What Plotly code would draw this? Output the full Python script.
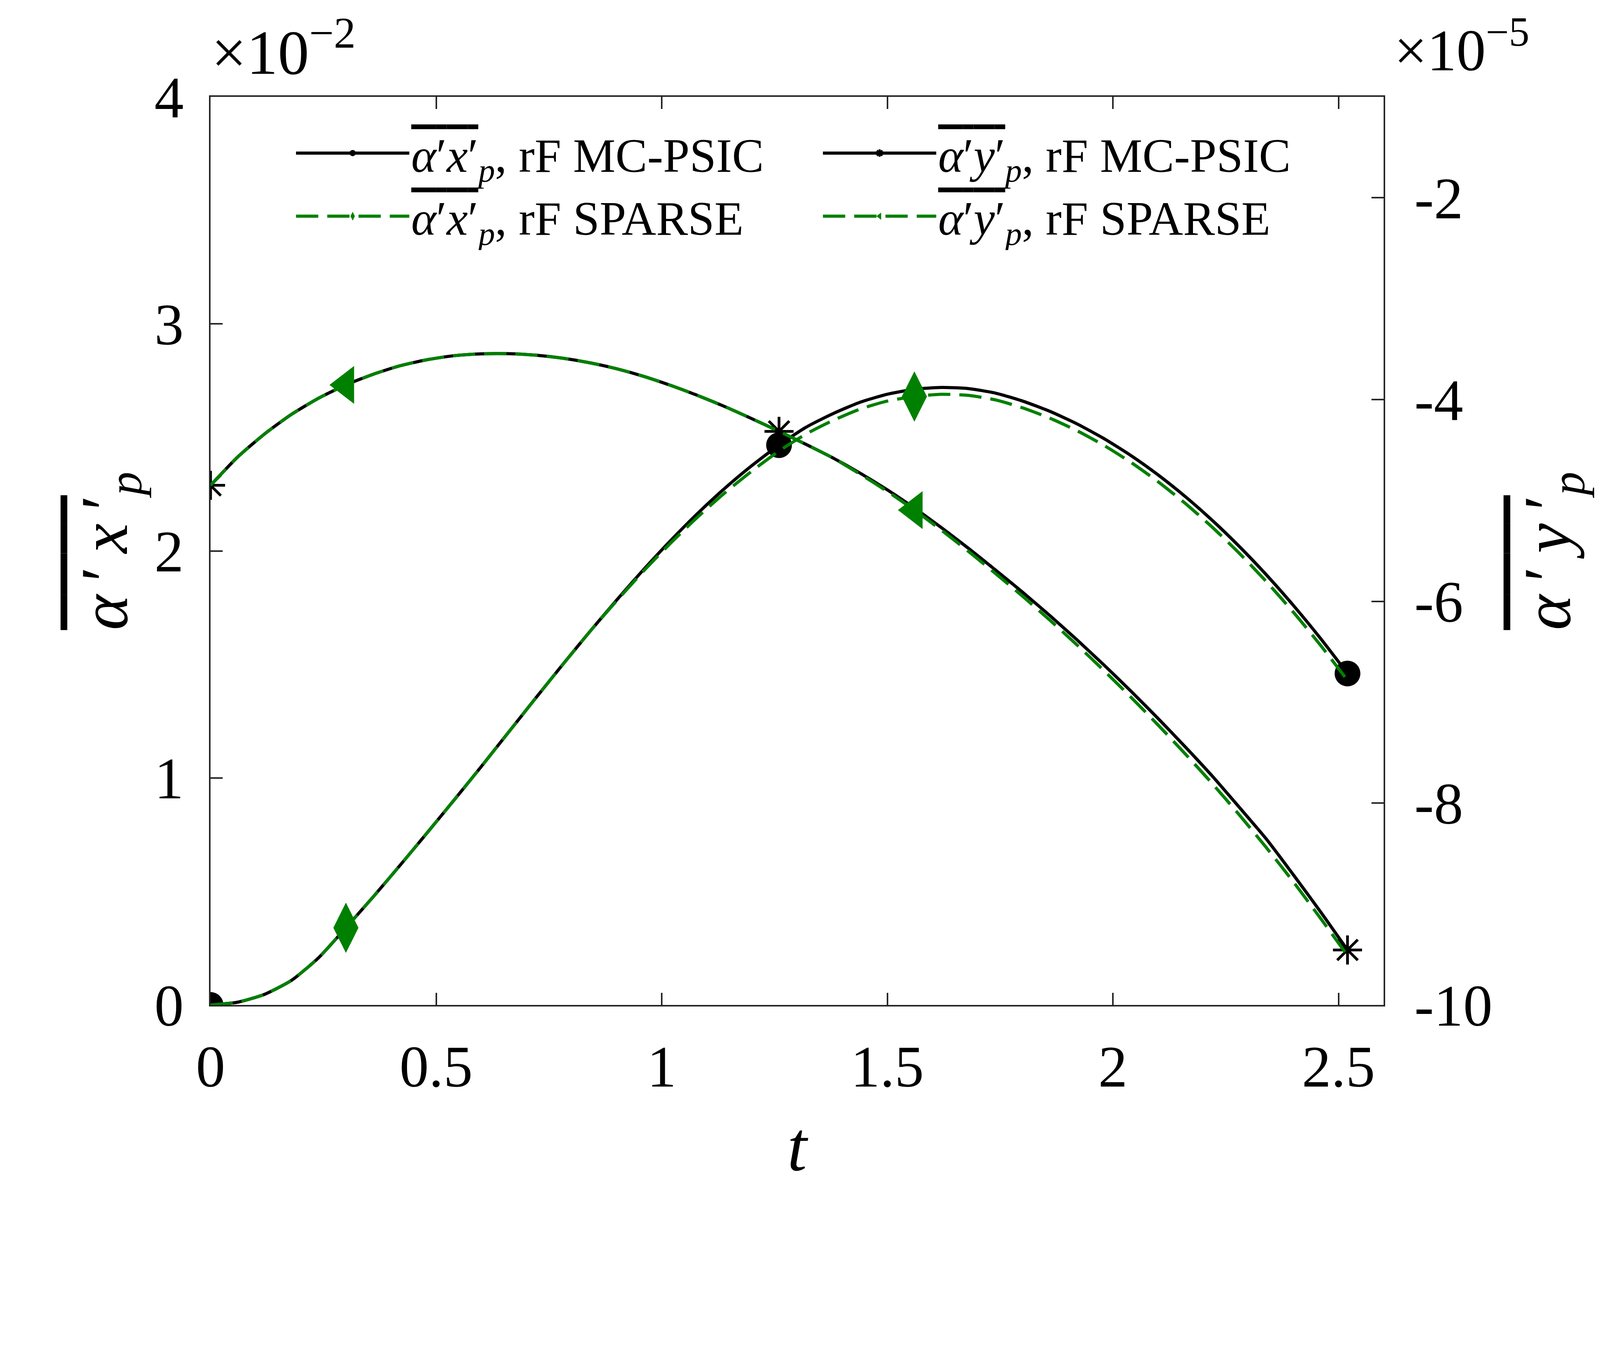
import plotly.graph_objects as go

# time grid (same for every series)
t = [0.00, 0.06, 0.12, 0.18, 0.24, 0.30, 0.36, 0.42, 0.48, 0.54, 0.60, 0.66, 0.72, 0.78,
     0.84, 0.90, 0.96, 1.02, 1.08, 1.14, 1.20, 1.26, 1.32, 1.38, 1.44, 1.50, 1.56, 1.62,
     1.68, 1.74, 1.80, 1.86, 1.92, 1.98, 2.04, 2.10, 2.16, 2.22, 2.28, 2.34, 2.40, 2.46, 2.52]

# alpha'x'_p  (x 1e-2), left axis
ax_mc = [0.000, 0.012, 0.047, 0.109, 0.209, 0.340, 0.475, 0.615, 0.758, 0.903, 1.050, 1.200,
         1.350, 1.498, 1.643, 1.783, 1.918, 2.046, 2.166, 2.276, 2.376, 2.466, 2.545, 2.605,
         2.655, 2.690, 2.712, 2.720, 2.715, 2.695, 2.660, 2.615, 2.560, 2.495, 2.420, 2.335,
         2.240, 2.135, 2.020, 1.895, 1.760, 1.615, 1.460]
ax_sp = [0.000, 0.012, 0.047, 0.109, 0.209, 0.340, 0.475, 0.615, 0.758, 0.903, 1.050, 1.200,
         1.350, 1.498, 1.643, 1.780, 1.912, 2.035, 2.150, 2.256, 2.352, 2.440, 2.515, 2.575,
         2.625, 2.660, 2.680, 2.690, 2.685, 2.665, 2.630, 2.585, 2.530, 2.465, 2.390, 2.305,
         2.210, 2.105, 1.990, 1.865, 1.730, 1.585, 1.430]

# alpha'y'_p  (x 1e-5), right axis
ay_mc = [-4.85, -4.57, -4.34, -4.145, -3.985, -3.855, -3.75, -3.665, -3.605, -3.565, -3.547,
         -3.545, -3.56, -3.59, -3.635, -3.695, -3.77, -3.86, -3.96, -4.07, -4.19, -4.315,
         -4.445, -4.58, -4.73, -4.895, -5.075, -5.27, -5.475, -5.69, -5.91, -6.14, -6.38,
         -6.63, -6.89, -7.16, -7.44, -7.73, -8.04, -8.355, -8.71, -9.075, -9.455]
ay_sp = [-4.85, -4.57, -4.34, -4.145, -3.985, -3.855, -3.75, -3.665, -3.605, -3.565, -3.547,
         -3.545, -3.56, -3.59, -3.635, -3.695, -3.77, -3.86, -3.96, -4.07, -4.19, -4.315,
         -4.445, -4.58, -4.74, -4.91, -5.095, -5.295, -5.505, -5.725, -5.95, -6.185, -6.43,
         -6.685, -6.95, -7.225, -7.51, -7.805, -8.115, -8.44, -8.78, -9.14, -9.51]

# indices where markers are shown
mc_marks = [0, 21, 42]
sp_marks = [5, 26]

left_ticks = [0, 1, 2, 3, 4]
right_ticks = [-10, -8, -6, -4, -2]
right_ticktext = ["-10", "-8", "-6", "-4", "-2"]
x_ticks = [0, 0.5, 1, 1.5, 2, 2.5]
x_ticktext = ["0", "0.5", "1", "1.5", "2", "2.5"]

FONT = "Liberation Serif"
GREEN = "rgb(0,128,0)"
AXC = "#262626"
LW = 8
DASH = "57px,23px"

ov_x = "<span style='text-decoration:overline'><i>α</i>′<i>x</i>′</span><sub><i>p</i></sub>"
ov_y = "<span style='text-decoration:overline'><i>α</i>′<i>y</i>′</span><sub><i>p</i></sub>"
# axis titles, a little wider spacing like math typesetting
tt_x = "<span style='text-decoration:overline'><i>α</i>\u2009′\u2009<i>x</i>\u2009′</span><sub><i>p</i></sub>"
tt_y = "<span style='text-decoration:overline'><i>α</i>\u2009′\u2009<i>y</i>\u2009′</span><sub><i>p</i></sub>"

fig = go.Figure()


def add_series(y, name, color, dash, symbol, size, marks, yaxis, legend, mline=0):
    fig.add_trace(go.Scatter(
        x=t, y=y, name=name, mode="lines+markers", yaxis=yaxis, legend=legend,
        line=dict(color=color, width=LW, dash=dash, shape="spline", smoothing=0.6),
        marker=dict(symbol=symbol, size=size, color=color,
                    line=dict(color=color, width=mline)),
        selectedpoints=marks,
        selected=dict(marker=dict(opacity=1)),
        unselected=dict(marker=dict(opacity=0)),
    ))


add_series(ax_mc, ov_x + ", rF MC-PSIC", "black", "solid", "circle", 66, mc_marks, "y", "legend")
add_series(ax_sp, ov_x + ", rF SPARSE", GREEN, DASH, "diamond-tall", 92, sp_marks, "y", "legend")
add_series(ay_mc, ov_y + ", rF MC-PSIC", "black", "solid", "asterisk-open", 62, mc_marks, "y2", "legend2", 7)
add_series(ay_sp, ov_y + ", rF SPARSE", GREEN, DASH, "triangle-left", 84, sp_marks, "y2", "legend2")

axis_common = dict(showline=True, linecolor=AXC, linewidth=3.5, ticks="inside", ticklen=31,
                   tickwidth=3.5, tickcolor=AXC, showgrid=False, zeroline=False,
                   tickfont=dict(family=FONT, size=150, color="black"))

legend_common = dict(y=0.975, xanchor="left", yanchor="top", bgcolor="rgba(0,0,0,0)",
                     font=dict(family=FONT, size=122), itemwidth=290, tracegroupgap=0)

fig.update_layout(
    width=4083, height=3062,
    margin=dict(l=531, r=549, t=240, b=497),
    plot_bgcolor="white", paper_bgcolor="white",
    font=dict(family=FONT, color="black"),
    xaxis=dict(range=[0, 2.6], tickvals=x_ticks, ticktext=x_ticktext, mirror="ticks",
               ticklabelstandoff=25,
               title=dict(text="<i>t</i>", font=dict(family=FONT, size=180), standoff=58),
               **axis_common),
    yaxis=dict(range=[0, 4], tickvals=left_ticks, ticklabelstandoff=35,
               title=dict(text=tt_x, font=dict(family=FONT, size=172), standoff=12),
               **axis_common),
    yaxis2=dict(range=[-10, -1], tickvals=right_ticks, ticktext=right_ticktext,
                overlaying="y", side="right", ticklabelstandoff=45,
                title=dict(text=tt_y, font=dict(family=FONT, size=172), standoff=80),
                **axis_common),
    legend=dict(x=0.0712, **legend_common),
    legend2=dict(x=0.5204, **legend_common),
    annotations=[
        dict(text="×10<sup>−2</sup>", xref="paper", yref="paper", x=0.0, y=1.0,
             xanchor="left", yanchor="bottom", showarrow=False, yshift=22,
             font=dict(family=FONT, size=160)),
        dict(text="×10<sup>−5</sup>", xref="paper", yref="paper", x=1.0, y=1.0,
             xanchor="left", yanchor="bottom", showarrow=False, xshift=25, yshift=34,
             font=dict(family=FONT, size=150)),
    ],
)

fig.write_html("out.html")
